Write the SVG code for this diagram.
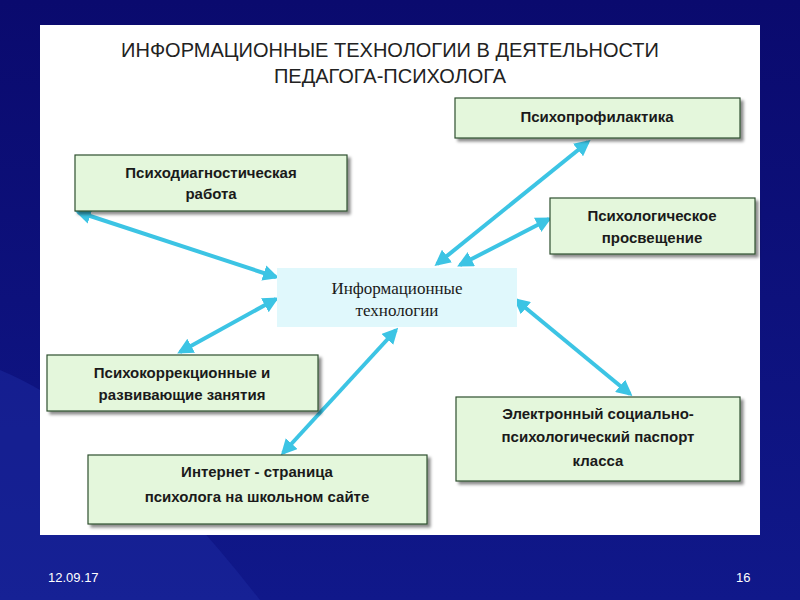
<svg xmlns="http://www.w3.org/2000/svg" width="800" height="600" viewBox="0 0 800 600">
<defs>
<linearGradient id="bg" x1="0" y1="0" x2="0" y2="1"><stop offset="0" stop-color="#0a0a6e"/><stop offset="1" stop-color="#10188a"/></linearGradient>
<marker id="ah" viewBox="0 0 10 10" refX="8" refY="5" markerWidth="4" markerHeight="4" orient="auto-start-reverse"><path d="M0,0 L10,5 L0,10 z" fill="#3cc4e4"/></marker>
<filter id="sh" x="-5%" y="-5%" width="115%" height="130%"><feDropShadow dx="3" dy="3" stdDeviation="1.5" flood-color="#000" flood-opacity="0.45"/></filter>
</defs>
<style>
.box{fill:#e4f7dc;stroke:#2f4f2f;stroke-width:1.2;filter:url(#sh)}
.t{font-family:"Liberation Sans",Arial,sans-serif;font-weight:bold;font-size:15px;fill:#1a1a1a;text-anchor:middle}
.c{font-family:"Liberation Serif","Times New Roman",serif;font-size:17px;fill:#1a1a1a;text-anchor:middle}
.a{stroke:#3cc4e4;stroke-width:4;fill:none;marker-start:url(#ah);marker-end:url(#ah)}
.f{font-family:"Liberation Sans",Arial,sans-serif;font-size:13px;fill:#ffffff}
</style>
<rect width="800" height="600" fill="url(#bg)"/>
<path d="M0,370 Q120,420 260,600 L0,600 z" fill="#1c2aa0" opacity="0.5"/>
<rect x="40" y="25" width="720" height="510" fill="#ffffff"/>
<text x="390" y="57" class="t" style="font-size:20px;font-weight:normal;fill:#222">ИНФОРМАЦИОННЫЕ ТЕХНОЛОГИИ В ДЕЯТЕЛЬНОСТИ</text>
<text x="390" y="83" class="t" style="font-size:20px;font-weight:normal;fill:#222">ПЕДАГОГА-ПСИХОЛОГА</text>
<g id="connectors">
<line class="a" x1="78" y1="212" x2="276" y2="277"/>
<line class="a" x1="588" y1="142" x2="437" y2="264"/>
<line class="a" x1="549" y1="219" x2="460" y2="265"/>
<line class="a" x1="276" y1="299" x2="180" y2="352"/>
<line class="a" x1="516" y1="300" x2="630" y2="394"/>
<line class="a" x1="396" y1="330" x2="283" y2="453"/>
</g>
<g id="n1"><rect class="box" x="455" y="98" width="285" height="40"/><text x="597" y="122" class="t">Психопрофилактика</text></g>
<g id="n2"><rect class="box" x="75" y="155" width="272" height="56"/><text x="211" y="178" class="t">Психодиагностическая</text><text x="211" y="199" class="t">работа</text></g>
<g id="n3"><rect class="box" x="550" y="198" width="205" height="56"/><text x="652" y="221" class="t">Психологическое</text><text x="652" y="243" class="t">просвещение</text></g>
<g id="n4"><rect x="277" y="268" width="240" height="59" fill="#e0f8fc"/><text x="397" y="294" class="c">Информационные</text><text x="397" y="316" class="c">технологии</text></g>
<g id="n5"><rect class="box" x="47" y="355" width="271" height="56"/><text x="182" y="378" class="t">Психокоррекционные и</text><text x="182" y="400" class="t">развивающие занятия</text></g>
<g id="n6"><rect class="box" x="456" y="397" width="284" height="84"/><text x="598" y="419" class="t">Электронный социально-</text><text x="598" y="442" class="t">психологический паспорт</text><text x="598" y="466" class="t">класса</text></g>
<g id="n7"><rect class="box" x="88" y="455" width="339" height="69"/><text x="257" y="477" class="t">Интернет - страница</text><text x="257" y="502" class="t">психолога на школьном сайте</text></g>
<text x="48" y="582" class="f">12.09.17</text>
<text x="736" y="582" class="f">16</text>
</svg>
